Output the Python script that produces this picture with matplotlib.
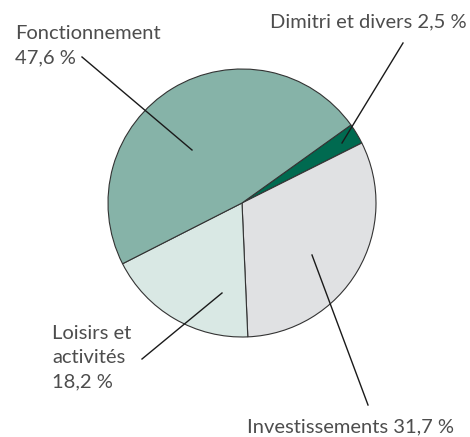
import matplotlib
matplotlib.use("Agg")
import matplotlib.pyplot as plt

# Budget shares (%)
labels = ["Dimitri et divers", "Investissements", "Loisirs et\nactivités", "Fonctionnement"]
values = [2.5, 31.7, 18.2, 47.6]
colors = ["#006a50", "#e0e1e3", "#d9e8e4", "#86b3a8"]

plt.rcParams['font.family'] = ['Lato', 'DejaVu Sans']

fig = plt.figure(figsize=(4.7, 4.37), dpi=100)
ax = fig.add_axes([0, 0, 1, 1])

cx, cy, r = 242, 234, 134
ax.pie(values, colors=colors, startangle=35.6, counterclock=False,
       center=(cx, cy), radius=r, frame=True,
       wedgeprops=dict(edgecolor="#333333", linewidth=0.8))
ax.set_xlim(0, 470)
ax.set_ylim(0, 437)
ax.set_aspect('equal')
ax.axis('off')

def pct(v):
    return f"{v:.1f}".replace(".", ",") + " %"

txt = dict(fontsize=14.5, color="#4d4d4d", linespacing=1.5)
line = dict(color="#1a1a1a", lw=1.0)

# Fonctionnement
ax.text(15, 437 - 25, labels[3] + "\n" + pct(values[3]), ha="left", va="top", **txt)
ax.plot([82, 192], [437 - 57, 437 - 150], **line)
# Dimitri
ax.text(467, 437 - 27, labels[0] + " " + pct(values[0]), ha="right", va="baseline", **txt)
ax.plot([403, 342], [437 - 43, 437 - 143], **line)
# Loisirs
ax.text(52, 437 - 325, labels[2] + "\n" + pct(values[2]), ha="left", va="top", **txt)
ax.plot([142, 222], [437 - 359, 437 - 293], **line)
# Investissements
ax.text(247, 437 - 432, labels[1] + " " + pct(values[1]), ha="left", va="baseline", **txt)
ax.plot([368, 312], [437 - 405, 437 - 255], **line)

fig.savefig("out.png", dpi=100)
